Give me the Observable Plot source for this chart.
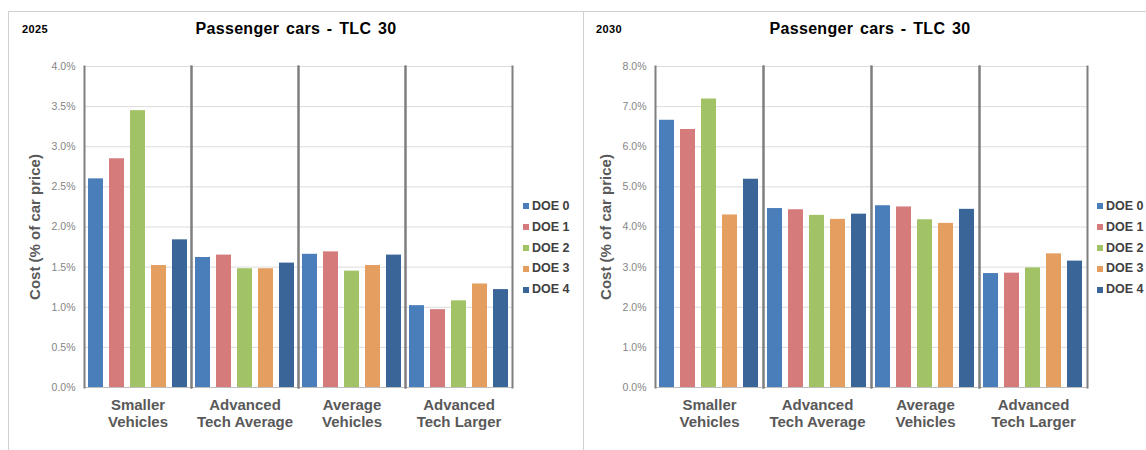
<!DOCTYPE html>
<html>
<head>
<meta charset="utf-8">
<script src="https://cdn.jsdelivr.net/npm/d3@7"></script>
<script src="https://cdn.jsdelivr.net/npm/@observablehq/plot@0.6"></script>
<style>
  html, body { margin: 0; padding: 0; background: #fff; }
  body { width: 1146px; height: 450px; position: relative; overflow: hidden; font-family: "Liberation Sans", Arial, sans-serif; }
  .line { position: absolute; background: #d0d0d0; }
  .year { position: absolute; font-size: 11px; font-weight: bold; color: #000; letter-spacing: 0.4px; }
  .title { position: absolute; font-size: 16px; font-weight: bold; color: #000; transform: translateX(-50%); white-space: nowrap; letter-spacing: 0.3px; word-spacing: 2px; }
  .panel { position: absolute; top: 0; }
  .legend { position: absolute; font-size: 12.5px; font-weight: bold; color: #404040; }
  .legend div { height: 20.8px; line-height: 20.8px; white-space: nowrap; display: flex; align-items: center; }
  .legend span.sw { display: inline-block; width: 6px; height: 6px; margin-right: 3px; }
</style>
</head>
<body>
<div class="line" style="left:8px;top:11px;width:1138px;height:1px"></div>
<div class="line" style="left:8px;top:11px;width:1px;height:439px"></div>
<div class="line" style="left:583px;top:11px;width:1px;height:439px"></div>
<div class="year" style="left:22px;top:23px">2025</div>
<div class="title" style="left:296px;top:20px">Passenger cars - TLC 30</div>
<div class="year" style="left:596px;top:23px">2030</div>
<div class="title" style="left:870px;top:20px">Passenger cars - TLC 30</div>
<div id="p1" class="panel" style="left:0px"></div>
<div id="p2" class="panel" style="left:583px"></div>
<div id="l1" class="legend" style="left:523px;top:196px"></div>
<div id="l2" class="legend" style="left:1097px;top:196px"></div>
<script>
const categories = ["Smaller Vehicles", "Advanced Tech Average", "Average Vehicles", "Advanced Tech Larger"];
const categoryLabels = ["Smaller\nVehicles", "Advanced\nTech Average", "Average\nVehicles", "Advanced\nTech Larger"];
const series = ["DOE 0", "DOE 1", "DOE 2", "DOE 3", "DOE 4"];
const colors = ["#4a7ebb", "#d67b7b", "#a1c265", "#e49e60", "#3a6598"];
const yLabel = "Cost (% of car price)";

// 2025 values (% of car price), by category order
const doe0_2025 = [2.60, 1.62, 1.66, 1.02];
const doe1_2025 = [2.85, 1.65, 1.69, 0.97];
const doe2_2025 = [3.45, 1.48, 1.45, 1.08];
const doe3_2025 = [1.52, 1.48, 1.52, 1.29];
const doe4_2025 = [1.84, 1.55, 1.65, 1.22];

// 2030 values
const doe0_2030 = [6.66, 4.46, 4.53, 2.84];
const doe1_2030 = [6.43, 4.43, 4.50, 2.85];
const doe2_2030 = [7.19, 4.29, 4.18, 2.98];
const doe3_2030 = [4.30, 4.19, 4.09, 3.33];
const doe4_2030 = [5.19, 4.32, 4.44, 3.15];

const ticks2025 = [0, 0.5, 1, 1.5, 2, 2.5, 3, 3.5, 4];
const ticks2030 = [0, 1, 2, 3, 4, 5, 6, 7, 8];

function panel(values, ticks, width, marginLeft, marginRight, labelOffset) {
  const data = [];
  series.forEach((s, i) => categories.forEach((c, j) => data.push({cat: c, doe: s, value: values[i][j]})));
  return Plot.plot({
    width, height: 450,
    marginTop: 66, marginBottom: 63, marginLeft, marginRight,
    style: {fontFamily: "Liberation Sans, Arial, sans-serif", background: "transparent", overflow: "visible"},
    fx: {domain: categories, padding: 0, axis: null},
    x: {domain: series, paddingInner: 0.28, paddingOuter: 0.15, axis: null},
    y: {domain: [0, ticks[ticks.length - 1]], axis: null},
    color: {domain: series, range: colors},
    marks: [
      Plot.gridY(ticks, {stroke: "#dcdcdc", strokeOpacity: 1}),
      Plot.ruleY([0], {stroke: "#bfbfbf"}),
      Plot.barY(data, {fx: "cat", x: "doe", y: "value", fill: "doe"}),
      Plot.frame({anchor: "left", stroke: "#7f7f7f", strokeWidth: 2}),
      Plot.frame({anchor: "right", stroke: "#7f7f7f", strokeWidth: 2}),
      Plot.axisY(ticks, {facetAnchor: "left", tickSize: 0, tickPadding: 9, tickFormat: d => d.toFixed(1) + "%", fontSize: 10.5, fill: "#858585", label: null}),
      Plot.text(categories, {fx: d => d, text: (d, i) => categoryLabels[i], frameAnchor: "bottom", lineAnchor: "top", dy: 10, fontSize: 15, fontWeight: "bold", fill: "#595959", lineHeight: 1.15}),
      Plot.text([yLabel], {fx: () => categories[0], frameAnchor: "left", textAnchor: "middle", rotate: -90, dx: -labelOffset, fontSize: 15, fontWeight: "bold", fill: "#595959"})
    ]
  });
}

document.getElementById("p1").appendChild(panel([doe0_2025, doe1_2025, doe2_2025, doe3_2025, doe4_2025], ticks2025, 580, 82, 67, 49));
document.getElementById("p2").appendChild(panel([doe0_2030, doe1_2030, doe2_2030, doe3_2030, doe4_2030], ticks2030, 563, 72, 59, 49));

for (const id of ["l1", "l2"]) {
  const el = document.getElementById(id);
  series.forEach((s, i) => {
    const row = document.createElement("div");
    const sw = document.createElement("span");
    sw.className = "sw";
    sw.style.background = colors[i];
    row.appendChild(sw);
    row.appendChild(document.createTextNode(s));
    el.appendChild(row);
  });
}
</script>
</body>
</html>
